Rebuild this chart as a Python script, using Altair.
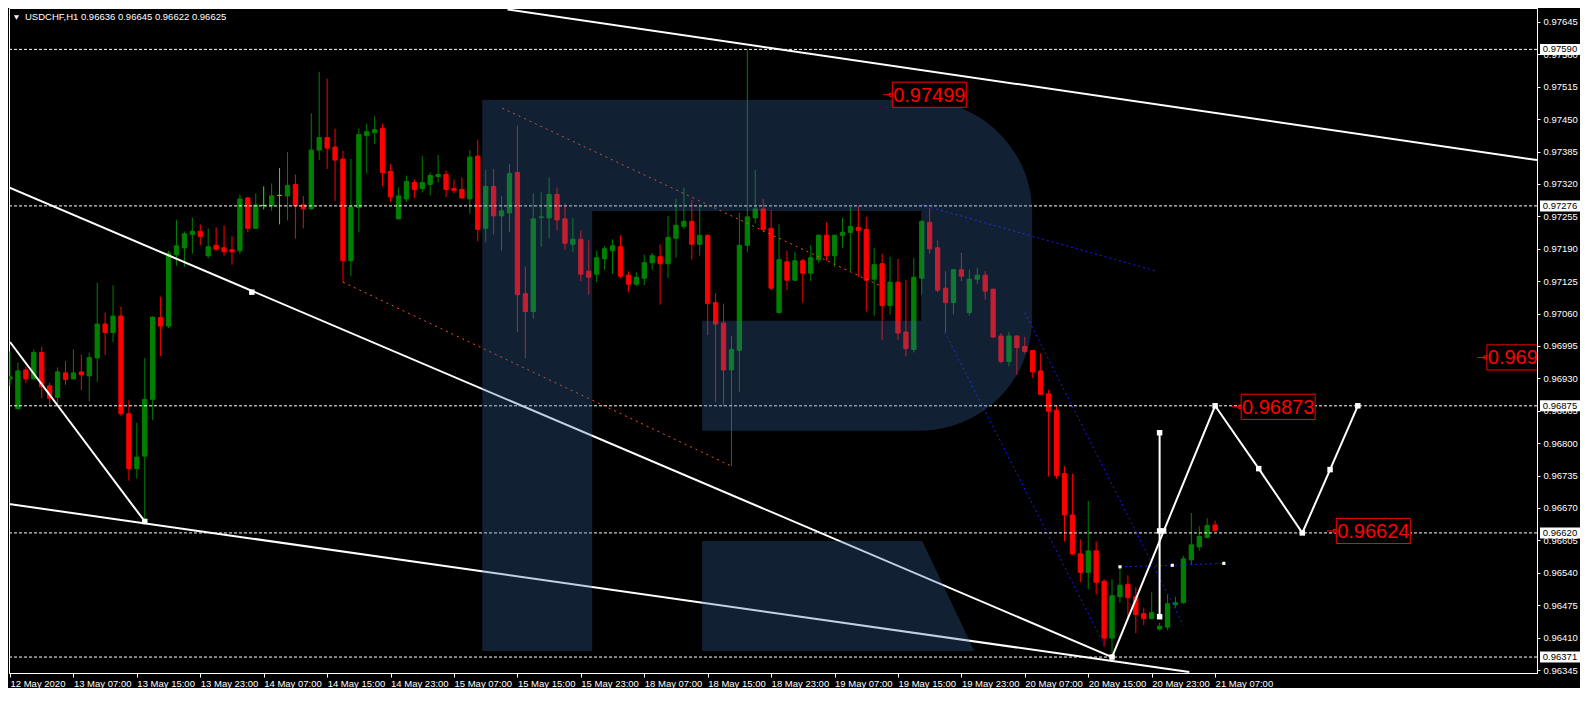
import altair as alt
import pandas as pd

# ---------------- data ----------------
opens = [0.96929,0.96869,0.96947,0.96929,0.96982,0.96915,0.96892,0.96941,0.96929,0.96943,
0.96935,0.96971,0.97039,0.97022,0.97055,0.96859,0.96749,0.96774,0.96888,0.97052,
0.97035,0.97178,0.97192,0.97219,0.97225,0.97176,0.97197,0.97192,0.97188,0.97186,
0.97292,0.97231,0.97277,0.97276,0.97297,0.97296,0.97319,0.97278,0.97270,0.97388,
0.97413,0.97394,0.97370,0.97166,0.97273,0.97417,0.97423,0.97431,0.97345,0.97250,
0.97290,0.97323,0.97311,0.97319,0.97335,0.97339,0.97311,0.97309,0.97290,0.97376,
0.97231,0.97315,0.97256,0.97262,0.97343,0.97100,0.97064,0.97253,0.97252,0.97299,
0.97250,0.97199,0.97209,0.97145,0.97139,0.97170,0.97186,0.97194,0.97137,0.97119,
0.97131,0.97162,0.97174,0.97160,0.97211,0.97235,0.97245,0.97199,0.97217,0.97082,
0.97041,0.96947,0.96986,0.97197,0.97252,0.97270,0.97231,0.97062,0.97164,0.97127,
0.97166,0.97141,0.97168,0.97217,0.97176,0.97217,0.97223,0.97233,0.97229,0.97129,
0.97160,0.97076,0.97123,0.97023,0.96988,0.97131,0.97243,0.97192,0.97111,0.97082,
0.97148,0.97062,0.97129,0.97137,0.97109,0.97015,0.96964,0.97015,0.96994,0.96986,
0.96945,0.96899,0.96866,0.96739,0.96656,0.96578,0.96541,0.96584,0.96523,0.96409,
0.96492,0.96517,0.96492,0.96458,0.96448,0.96427,0.96431,0.96476,0.96480,0.96566,
0.96592,0.96611,0.96636]
highs = [0.96984,0.96962,0.96954,0.96988,0.96994,0.96921,0.96952,0.96965,0.96988,0.96978,
0.96982,0.97122,0.97062,0.97117,0.97074,0.96886,0.96841,0.96971,0.97054,0.97094,
0.97186,0.97248,0.97225,0.97252,0.97239,0.97231,0.97233,0.97237,0.97215,0.97299,
0.97294,0.97301,0.97315,0.97321,0.97352,0.97384,0.97339,0.97296,0.97462,0.97545,
0.97531,0.97431,0.97386,0.97370,0.97431,0.97441,0.97456,0.97441,0.97360,0.97313,
0.97337,0.97329,0.97376,0.97343,0.97378,0.97347,0.97329,0.97333,0.97388,0.97409,
0.97348,0.97350,0.97296,0.97360,0.97437,0.97154,0.97301,0.97303,0.97333,0.97313,
0.97280,0.97252,0.97227,0.97207,0.97186,0.97196,0.97209,0.97217,0.97145,0.97143,
0.97178,0.97182,0.97199,0.97256,0.97290,0.97313,0.97288,0.97280,0.97219,0.97101,
0.97080,0.97015,0.97262,0.97590,0.97348,0.97290,0.97268,0.97239,0.97186,0.97184,
0.97170,0.97197,0.97219,0.97243,0.97218,0.97252,0.97274,0.97276,0.97254,0.97192,
0.97180,0.97174,0.97170,0.97127,0.97172,0.97247,0.97272,0.97207,0.97145,0.97150,
0.97182,0.97148,0.97152,0.97145,0.97110,0.97021,0.97023,0.97016,0.97013,0.96987,
0.96980,0.96907,0.96876,0.96754,0.96739,0.96607,0.96684,0.96603,0.96527,0.96527,
0.96552,0.96535,0.96511,0.96470,0.96501,0.96440,0.96496,0.96492,0.96574,0.96660,
0.96633,0.96650,0.96645]
lows = [0.96915,0.96868,0.96921,0.96928,0.96890,0.96874,0.96879,0.96917,0.96928,0.96906,
0.96884,0.96923,0.96977,0.97003,0.96854,0.96725,0.96729,0.96645,0.96846,0.96975,
0.97031,0.97156,0.97154,0.97180,0.97197,0.97171,0.97186,0.97176,0.97158,0.97180,
0.97223,0.97230,0.97269,0.97266,0.97239,0.97247,0.97210,0.97231,0.97268,0.97368,
0.97350,0.97286,0.97123,0.97135,0.97223,0.97341,0.97400,0.97315,0.97284,0.97249,
0.97284,0.97292,0.97303,0.97297,0.97323,0.97294,0.97301,0.97290,0.97260,0.97205,
0.97203,0.97219,0.97186,0.97223,0.97023,0.96970,0.97050,0.97194,0.97211,0.97227,
0.97188,0.97184,0.97125,0.97098,0.97123,0.97148,0.97139,0.97131,0.97103,0.97115,
0.97117,0.97148,0.97078,0.97131,0.97172,0.97229,0.97168,0.97176,0.97017,0.96882,
0.96874,0.96754,0.96903,0.97184,0.97241,0.97223,0.97107,0.97060,0.97107,0.97125,
0.97082,0.97125,0.97162,0.97166,0.97154,0.97192,0.97145,0.97133,0.97064,0.97056,
0.97007,0.97058,0.97007,0.96974,0.96982,0.97098,0.97180,0.97103,0.97023,0.97058,
0.97125,0.97056,0.97119,0.97088,0.97011,0.96960,0.96954,0.96937,0.96980,0.96931,
0.96897,0.96733,0.96729,0.96603,0.96576,0.96521,0.96507,0.96497,0.96392,0.96371,
0.96480,0.96450,0.96419,0.96435,0.96447,0.96424,0.96425,0.96470,0.96478,0.96556,
0.96584,0.96609,0.96622]
closes = [0.96933,0.96945,0.96929,0.96982,0.96913,0.96890,0.96943,0.96928,0.96941,0.96937,
0.96972,0.97039,0.97022,0.97055,0.96859,0.96749,0.96772,0.96888,0.97053,0.97035,
0.97181,0.97196,0.97220,0.97225,0.97215,0.97194,0.97189,0.97184,0.97184,0.97290,
0.97231,0.97278,0.97277,0.97296,0.97297,0.97317,0.97276,0.97270,0.97388,0.97413,
0.97392,0.97368,0.97166,0.97274,0.97419,0.97425,0.97429,0.97343,0.97294,0.97296,
0.97325,0.97309,0.97323,0.97337,0.97339,0.97309,0.97307,0.97292,0.97374,0.97229,
0.97315,0.97256,0.97266,0.97341,0.97098,0.97064,0.97250,0.97254,0.97299,0.97248,
0.97201,0.97209,0.97139,0.97133,0.97172,0.97190,0.97196,0.97135,0.97119,0.97133,
0.97162,0.97176,0.97160,0.97213,0.97237,0.97245,0.97199,0.97217,0.97080,0.97039,
0.96947,0.96988,0.97197,0.97254,0.97270,0.97229,0.97111,0.97168,0.97127,0.97166,
0.97141,0.97172,0.97217,0.97176,0.97217,0.97223,0.97235,0.97227,0.97127,0.97158,
0.97076,0.97123,0.97021,0.96990,0.97133,0.97245,0.97190,0.97107,0.97082,0.97148,
0.97135,0.97129,0.97137,0.97105,0.97013,0.96964,0.97015,0.96992,0.96984,0.96943,
0.96898,0.96864,0.96735,0.96656,0.96578,0.96541,0.96584,0.96521,0.96409,0.96494,
0.96515,0.96490,0.96456,0.96448,0.96460,0.96433,0.96478,0.96480,0.96568,0.96596,
0.96613,0.96635,0.96625]

time_bars = [0, 8, 16, 24, 32, 40, 48, 56, 64, 72, 80, 88, 96, 104, 112, 120, 128, 136, 144, 152]
time_labels = ["12 May 2020", "13 May 07:00", "13 May 15:00", "13 May 23:00", "14 May 07:00",
               "14 May 15:00", "14 May 23:00", "15 May 07:00", "15 May 15:00", "15 May 23:00",
               "18 May 07:00", "18 May 15:00", "18 May 23:00", "19 May 07:00", "19 May 15:00",
               "19 May 23:00", "20 May 07:00", "20 May 15:00", "20 May 23:00", "21 May 07:00"]
price_ticks = [0.96345, 0.96410, 0.96475, 0.96540, 0.96605, 0.96670, 0.96735, 0.96800, 0.96865,
               0.96930, 0.96995, 0.97060, 0.97125, 0.97190, 0.97255, 0.97320, 0.97385, 0.97450,
               0.97515, 0.97580, 0.97645]

levels = [0.97590, 0.97276, 0.96875, 0.96620, 0.96371]
level_text = ["0.97590", "0.97276", "0.96875", "0.96620", "0.96371"]

# white trend lines (bar index, price)
line_a_x = [62.75, 192.6];  line_a_y = [0.97670, 0.97368]
line_b_x = [-0.125, 139];   line_b_y = [0.97313, 0.96371]
line_c_x = [-0.125, 148.75]; line_c_y = [0.96678, 0.96341]
line_d_x = [0, 17];         line_d_y = [0.97003, 0.96643]
zig_x = [139, 152, 157.5, 163, 166.5, 170]
zig_y = [0.96371, 0.96875, 0.96749, 0.96620, 0.96747, 0.96875]
vert_x = [145, 145];        vert_y = [0.96821, 0.96452]
white_sq_x = [30.5, 17, 139, 145, 145.5, 152, 157.5, 163, 166.5, 170, 145, 145]
white_sq_y = [0.97103, 0.96643, 0.96371, 0.96624, 0.96624, 0.96875, 0.96749, 0.96620, 0.96747,
              0.96875, 0.96821, 0.96452]

# orange dotted channel
orange1_x = [62.1, 109.6];  orange1_y = [0.97472, 0.97117]
orange2_x = [42, 91];       orange2_y = [0.97123, 0.96754]
# blue dotted lines
blue1_x = [115, 144.6];     blue1_y = [0.97278, 0.97145]
blue2_x = [117.9, 138];     blue2_y = [0.97023, 0.96396]
blue3_x = [128, 148];       blue3_y = [0.97062, 0.96435]
blue4_x = [140, 146.6, 153.1]; blue4_y = [0.96552, 0.96555, 0.96559]

# red price labels
plabel_text = ["0.97499", "0.96873", "0.96624", "0.96972"]
plabel_price = [0.97499, 0.96873, 0.96624, 0.96972]
plabel_bar = [110.1, 154.1, 166.1, 185.1]

header = "USDCHF,H1  0.96636 0.96645 0.96622 0.96625"

# ---------------- chart ----------------
W, H = 1528, 665
FONT = "Liberation Sans"
xs = alt.Scale(domain=[-0.125, 192.6], nice=False, zero=False)
ys = alt.Scale(domain=[0.96339, 0.97673], nice=False, zero=False)

dirs = ["up" if c > o else ("down" if c < o else "doji") for o, c in zip(opens, closes)]
candles = pd.DataFrame({"i": list(range(len(opens))), "o": opens, "h": highs,
                        "l": lows, "c": closes, "dir": dirs})
cscale = alt.Scale(domain=["up", "down", "doji"], range=["#008000", "#ff0000", "#00ff00"])

labels_js = "[" + ",".join("'%s'" % s for s in time_labels) + "]"
bars_js = "[" + ",".join(str(b) for b in time_bars) + "]"

xaxis = alt.Axis(values=time_bars, labelExpr=labels_js + "[indexof(" + bars_js + ", datum.value)]",
                 orient="bottom", labelAlign="left", labelPadding=1, tickSize=4, tickCount=60,
                 labelFlush=False, labelOverlap=False, grid=False, title=None)
yaxis = alt.Axis(values=price_ticks, format=".5f", orient="right", tickSize=3, labelPadding=3,
                 tickCount=60, labelFlush=False, labelOverlap=False, grid=False,
                 labelBaseline="middle", title=None)


def X(f):
    return alt.X(f, scale=xs, title=None)


def Y(f):
    return alt.Y(f, scale=ys, title=None)


wicks = alt.Chart(candles).mark_rule(strokeWidth=1, clip=True).encode(
    x=alt.X("i:Q", scale=xs, axis=xaxis),
    y=alt.Y("l:Q", scale=ys, axis=yaxis),
    y2="h:Q",
    color=alt.Color("dir:N", scale=cscale, legend=None),
)
bodies = alt.Chart(candles).transform_calculate(
    x0="datum.i - 0.27", x1="datum.i + 0.27"
).mark_rect(strokeWidth=1, clip=True).encode(
    x=X("x0:Q"), x2="x1:Q", y=Y("o:Q"), y2="c:Q",
    color=alt.Color("dir:N", scale=cscale, legend=None),
    stroke=alt.Stroke("dir:N", scale=cscale, legend=None),
)

lev_df = pd.DataFrame({"p": levels, "t": level_text})
level_rules = alt.Chart(lev_df).mark_rule(color="white", strokeWidth=1, strokeDash=[3, 2]).encode(
    y=Y("p:Q"))


def line_frame(pairs):
    rows = []
    for name, xv, yv in pairs:
        for k, (a, b) in enumerate(zip(xv, yv)):
            rows.append({"id": name, "k": k, "x": a, "y": b})
    return pd.DataFrame(rows)


white_df = line_frame([("a", line_a_x, line_a_y), ("b", line_b_x, line_b_y),
                       ("c", line_c_x, line_c_y), ("d", line_d_x, line_d_y),
                       ("zig", zig_x, zig_y), ("vert", vert_x, vert_y)])
orange_df = line_frame([("o1", orange1_x, orange1_y), ("o2", orange2_x, orange2_y)])
blue_df = line_frame([("b1", blue1_x, blue1_y), ("b2", blue2_x, blue2_y),
                      ("b3", blue3_x, blue3_y), ("b4", blue4_x, blue4_y)])

white_lines = alt.Chart(white_df).mark_line(color="white", strokeWidth=2, clip=True).encode(
    x=X("x:Q"), y=Y("y:Q"), detail="id:N", order="k:Q")
orange_lines = alt.Chart(orange_df).mark_line(color="#ff5014", strokeWidth=1,
                                              strokeDash=[2, 4], clip=True).encode(
    x=X("x:Q"), y=Y("y:Q"), detail="id:N", order="k:Q")
blue_lines = alt.Chart(blue_df).mark_line(color="#1a1aff", strokeWidth=1,
                                          strokeDash=[2, 3], clip=True).encode(
    x=X("x:Q"), y=Y("y:Q"), detail="id:N", order="k:Q")

wsq = alt.Chart(pd.DataFrame({"x": white_sq_x, "y": white_sq_y})).mark_point(
    shape="square", filled=True, color="white", size=30, opacity=1).encode(x=X("x:Q"), y=Y("y:Q"))
bsq = alt.Chart(pd.DataFrame({"x": blue4_x, "y": blue4_y})).mark_point(
    shape="square", filled=True, color="white", size=10, opacity=1).encode(x=X("x:Q"), y=Y("y:Q"))

# watermark "R" logo (semi-transparent overlay)
R_PATH = ("M-0.998,-1 L0.588,-1 C0.815,-1 0.998,-0.816 0.998,-0.590 L0.998,-0.209 "
          "C0.998,0.018 0.815,0.201 0.588,0.201 L-0.200,0.201 L-0.200,-0.198 L0.595,-0.198 "
          "L0.595,-0.597 L-0.599,-0.597 L-0.599,1 L-0.998,1 Z "
          "M-0.200,0.601 L0.599,0.601 L0.788,1 L-0.200,1 Z")
logo = alt.Chart(pd.DataFrame({"x": [94.25], "y": [0.96936]})).mark_point(
    shape=R_PATH, size=303601, filled=True, color="#3666a6", opacity=0.31, strokeWidth=0
).encode(x=X("x:Q"), y=Y("y:Q"))

pl_df = pd.DataFrame({"b": plabel_bar, "p": plabel_price, "t": plabel_text})
pl_base = alt.Chart(pl_df).transform_calculate(
    b2="datum.b + 1.25", bs="datum.b + 1.0", bc="datum.b + 5.85")
pl_tick = pl_base.mark_rule(color="red", strokeWidth=1, clip=True).encode(
    x=X("b:Q"), x2="b2:Q", y=Y("p:Q"))
pl_sq = pl_base.mark_point(shape="square", size=10, color="red", filled=False,
                           strokeWidth=1, opacity=1, clip=True).encode(x=X("bs:Q"), y=Y("p:Q"))
pl_box = pl_base.mark_point(shape="M-1,-0.34H1V0.34H-1Z", size=5476, fill="black", stroke="red",
                            strokeWidth=1, opacity=1, fillOpacity=1, clip=True).encode(
    x=X("bc:Q"), y=Y("p:Q"))
pl_text = pl_base.mark_text(color="red", font=FONT, fontSize=20, align="center",
                            baseline="middle", clip=True, dy=1).encode(
    x=X("bc:Q"), y=Y("p:Q"), text="t:N")

head_df = pd.DataFrame({"t": [header]})
head_text = alt.Chart(head_df).mark_text(color="white", font=FONT, fontSize=9.5, align="left",
                                         baseline="middle").encode(
    x=alt.value(16), y=alt.value(9), text="t:N")
head_tri = alt.Chart(head_df).mark_point(shape="triangle-down", filled=True, color="white",
                                         size=28, opacity=1).encode(
    x=alt.value(7.5), y=alt.value(9.5))

hl_box = alt.Chart(lev_df).mark_point(shape="M-1,-0.275H1V0.275H-1Z", size=1600, filled=True,
                                      color="white", opacity=1).encode(
    x=alt.value(W + 23), y=Y("p:Q"))
hl_text = alt.Chart(lev_df).mark_text(color="black", font=FONT, fontSize=9.5, align="center",
                                      baseline="middle").encode(
    x=alt.value(W + 23), y=Y("p:Q"), text="t:N")

chart = alt.layer(
    wicks, bodies, level_rules, orange_lines, blue_lines, white_lines, wsq, bsq, logo,
    pl_tick, pl_sq, pl_box, pl_text, head_tri, head_text, hl_box, hl_text
).properties(
    width=W, height=H, background="black", padding=0
).configure_view(stroke="white", strokeWidth=1).configure_axis(
    domainColor="white", tickColor="white", labelColor="white", labelFont=FONT,
    labelFontSize=9.5, grid=False, labelOverlap=False, labelFlush=False
)

chart.save("out.html", embed_options={"renderer": "svg", "actions": False})
